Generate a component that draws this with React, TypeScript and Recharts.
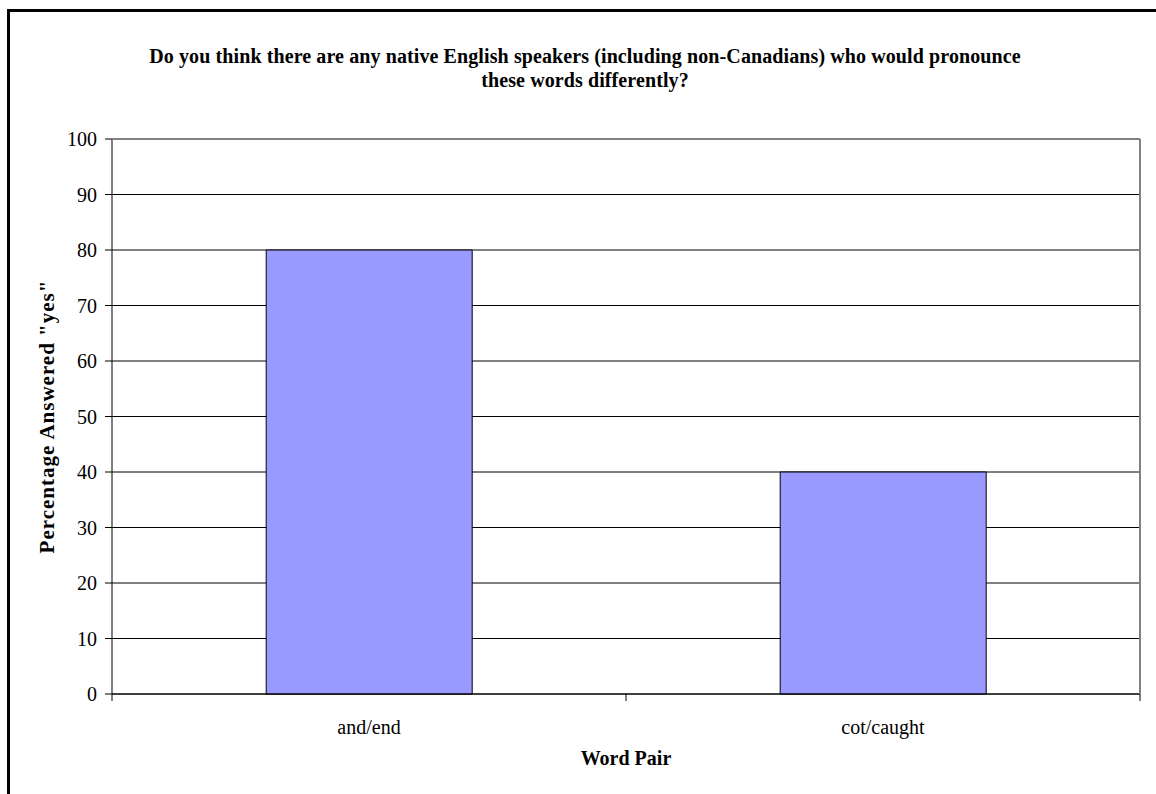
import { BarChart, Bar, XAxis, YAxis, CartesianGrid, Label } from 'recharts';

const wordPairs = ['and/end', 'cot/caught'];
const percentYes = [80, 40];
const yTicks = [0, 10, 20, 30, 40, 50, 60, 70, 80, 90, 100];

const data = wordPairs.map((pair, i) => ({ pair, yes: percentYes[i] }));

const FONT = '"Liberation Serif", "Times New Roman", serif';

// category label plus the short marks Excel puts between categories
function PairTick(props: any) {
  const { x, y, payload, width } = props;
  const band = width / wordPairs.length;
  return (
    <g>
      <line x1={x - band / 2} y1={y - 8} x2={x - band / 2} y2={y - 1} stroke="#000" />
      {payload.index === wordPairs.length - 1 && (
        <line x1={x + band / 2} y1={y - 8} x2={x + band / 2} y2={y - 1} stroke="#000" />
      )}
      <text x={x} y={y + 32} textAnchor="middle" fontSize={20} fontFamily={FONT} fill="#000">
        {payload.value}
      </text>
    </g>
  );
}

export default function App() {
  return (
    <div style={{ position: 'absolute', left: 0, top: 0, width: 1156, height: 794, background: '#fff', overflow: 'hidden' }}>
      <div style={{ position: 'absolute', left: 7, top: 9, width: 1160, height: 800, border: '3px solid #000', boxSizing: 'border-box' }} />
      <div
        style={{
          position: 'absolute',
          left: 0,
          top: 44,
          width: 1170,
          textAlign: 'center',
          fontFamily: FONT,
          fontWeight: 'bold',
          fontSize: 20,
          letterSpacing: 0.1,
          lineHeight: '24px',
        }}
      >
        Do you think there are any native English speakers (including non-Canadians) who would pronounce
        <br />
        these words differently?
      </div>
      <BarChart
        width={1156}
        height={794}
        data={data}
        margin={{ top: 139, right: 16, bottom: 20, left: 52 }}
        barCategoryGap="30%"
        style={{ position: 'absolute', left: 0, top: 0 }}
      >
        <CartesianGrid vertical={false} stroke="#000" strokeWidth={1} />
        <XAxis
          dataKey="pair"
          height={80}
          axisLine={{ stroke: '#000' }}
          tickLine={false}
          tick={<PairTick />}
          interval={0}
        >
          <Label
            value="Word Pair"
            position="insideBottom"
            offset={9}
            style={{ fontFamily: FONT, fontWeight: 'bold', fontSize: 20, fill: '#000' }}
          />
        </XAxis>
        <YAxis
          width={60}
          domain={[0, 100]}
          ticks={yTicks}
          interval={0}
          axisLine={{ stroke: '#000' }}
          tickLine={{ stroke: '#000' }}
          tickSize={7}
          tickMargin={8}
          tick={{ fontFamily: FONT, fontSize: 20, fill: '#000' }}
        >
          <Label
            content={({ viewBox }: any) => {
              const cy = viewBox.y + viewBox.height / 2;
              return (
                <text
                  x={0}
                  y={0}
                  transform={`translate(54, ${cy}) rotate(-90)`}
                  textAnchor="middle"
                  fontFamily={FONT}
                  fontWeight="bold"
                  fontSize={21}
                  letterSpacing={1}
                  fill="#000"
                >
                  Percentage Answered "yes"
                </text>
              );
            }}
          />
        </YAxis>
        <Bar dataKey="yes" fill="#9999FF" stroke="#000" strokeWidth={1} isAnimationActive={false} />
      </BarChart>
      {/* plot area frame on top and right */}
      <div style={{ position: 'absolute', left: 112, top: 139, width: 1029, height: 555, borderTop: '1px solid #808080', borderRight: '2px solid #808080', boxSizing: 'border-box', pointerEvents: 'none' }} />
    </div>
  );
}
